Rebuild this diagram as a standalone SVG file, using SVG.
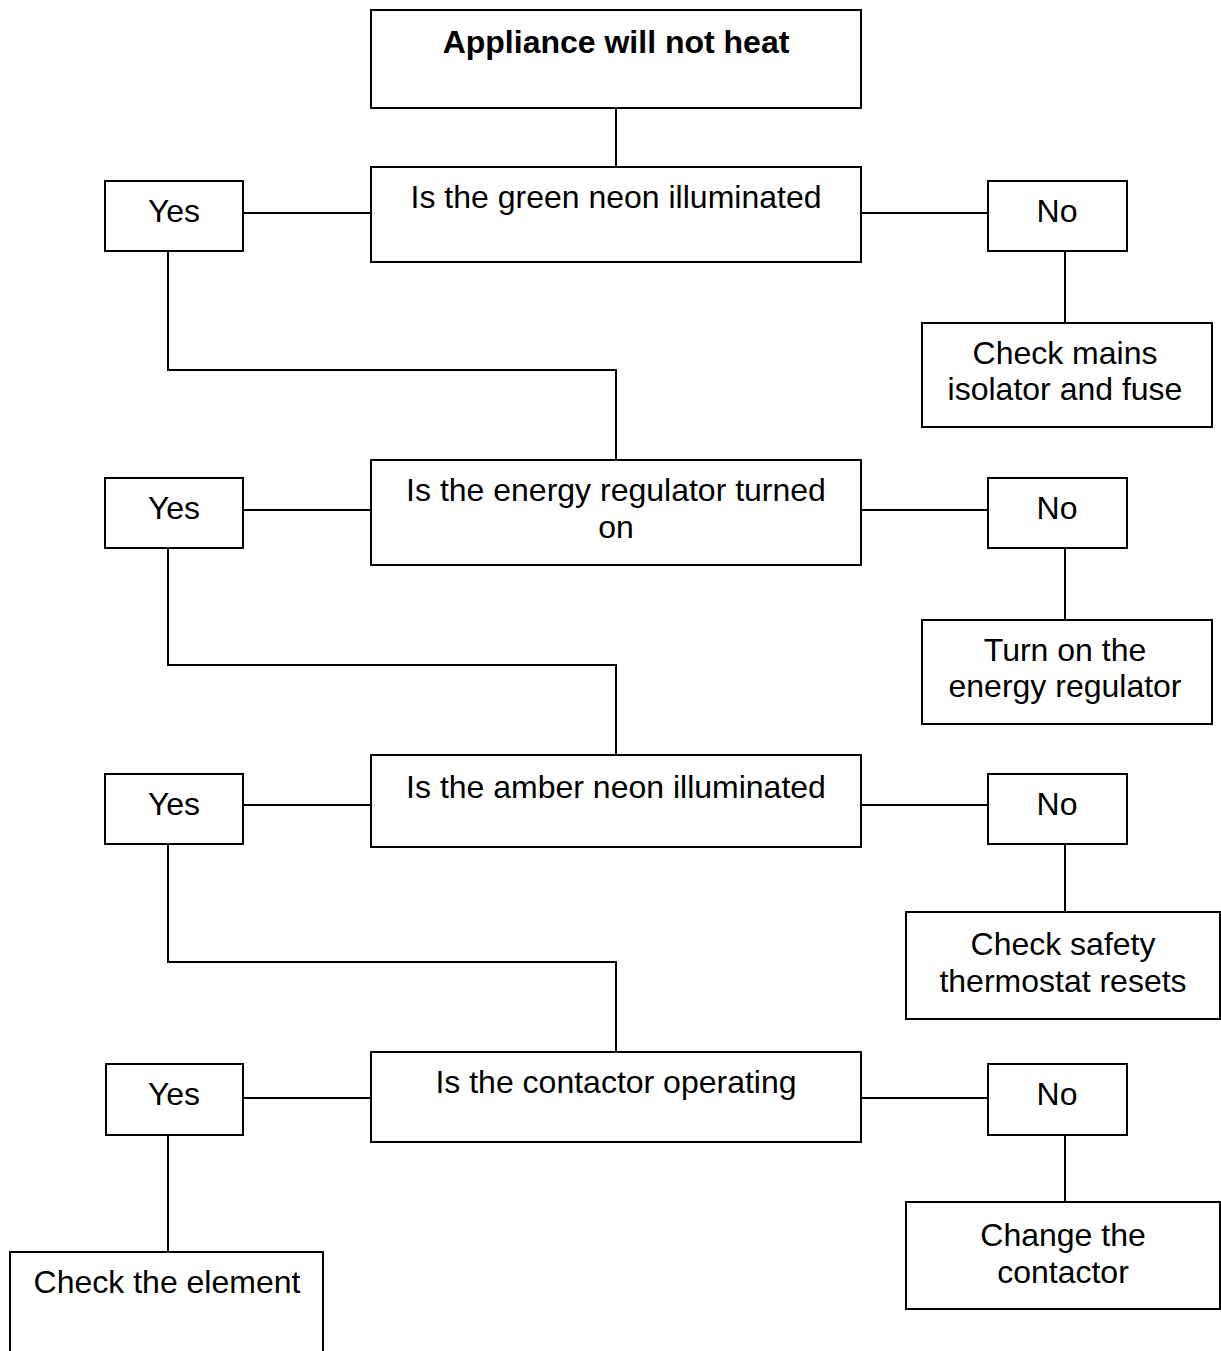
<svg xmlns="http://www.w3.org/2000/svg" width="1221" height="1351" viewBox="0 0 1221 1351">
<style>
.box{fill:#fff;stroke:#000;stroke-width:2}
.ln{fill:none;stroke:#000;stroke-width:2}
text{font-family:"Liberation Sans",Arial,sans-serif;font-size:32px;fill:#000;text-anchor:middle}
.b{font-weight:bold}
</style>
<rect width="1221" height="1351" fill="#fff"/>
<g id="connectors">
<path class="ln" d="M616 108V167"/>
<path class="ln" d="M243 213H371M861 213H988M1065 251V323M168 251V370H616V460"/>
<path class="ln" d="M243 510H371M861 510H988M1065 548V620M168 548V665H616V755"/>
<path class="ln" d="M243 805H371M861 805H988M1065 844V912M168 844V962H616V1052"/>
<path class="ln" d="M243 1098H371M861 1098H988M1065 1135V1202M168 1135V1252"/>
</g>
<g id="start"><rect class="box" x="371" y="10" width="490" height="98"/><text class="b" x="616" y="53">Appliance will not heat</text></g>
<g id="q1"><rect class="box" x="371" y="167" width="490" height="95"/><text x="616" y="208">Is the green neon illuminated</text></g>
<g id="yes1"><rect class="box" x="105" y="181" width="138" height="70"/><text x="174" y="222">Yes</text></g>
<g id="no1"><rect class="box" x="988" y="181" width="139" height="70"/><text x="1057" y="222">No</text></g>
<g id="a1"><rect class="box" x="922" y="323" width="290" height="104"/><text x="1065" y="364">Check mains</text><text x="1065" y="400">isolator and fuse</text></g>
<g id="q2"><rect class="box" x="371" y="460" width="490" height="105"/><text x="616" y="501">Is the energy regulator turned</text><text x="616" y="538">on</text></g>
<g id="yes2"><rect class="box" x="105" y="478" width="138" height="70"/><text x="174" y="519">Yes</text></g>
<g id="no2"><rect class="box" x="988" y="478" width="139" height="70"/><text x="1057" y="519">No</text></g>
<g id="a2"><rect class="box" x="922" y="620" width="290" height="104"/><text x="1065" y="661">Turn on the</text><text x="1065" y="697">energy regulator</text></g>
<g id="q3"><rect class="box" x="371" y="755" width="490" height="92"/><text x="616" y="798">Is the amber neon illuminated</text></g>
<g id="yes3"><rect class="box" x="105" y="774" width="138" height="70"/><text x="174" y="815">Yes</text></g>
<g id="no3"><rect class="box" x="988" y="774" width="139" height="70"/><text x="1057" y="815">No</text></g>
<g id="a3"><rect class="box" x="906" y="912" width="314" height="107"/><text x="1063" y="955">Check safety</text><text x="1063" y="992">thermostat resets</text></g>
<g id="q4"><rect class="box" x="371" y="1052" width="490" height="90"/><text x="616" y="1093">Is the contactor operating</text></g>
<g id="yes4"><rect class="box" x="106" y="1064" width="137" height="71"/><text x="174" y="1105">Yes</text></g>
<g id="no4"><rect class="box" x="988" y="1064" width="139" height="71"/><text x="1057" y="1105">No</text></g>
<g id="a4"><rect class="box" x="906" y="1202" width="314" height="107"/><text x="1063" y="1246">Change the</text><text x="1063" y="1283">contactor</text></g>
<g id="a5"><rect class="box" x="10" y="1252" width="313" height="120"/><text x="167" y="1293">Check the element</text></g>
</svg>
